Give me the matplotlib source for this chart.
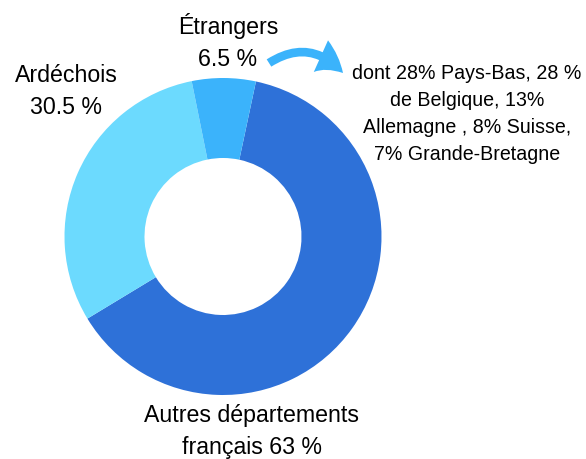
import matplotlib
matplotlib.use("Agg")
import matplotlib.pyplot as plt
from matplotlib.patches import FancyArrowPatch

# --- DATA ---
labels = ["Autres départements\nfrançais 63 %", "Ardéchois\n30.5 %", "Étrangers\n6.5 %"]
shares = [63, 30.5, 6.5]
colors = ["#2E71D8", "#6CDAFE", "#3BB3FB"]
note = "dont 28% Pays-Bas, 28 %\nde Belgique, 13%\nAllemagne , 8% Suisse,\n7% Grande-Bretagne"

W, H = 586, 459
plt.rcParams['font.family'] = ['Liberation Sans', 'DejaVu Sans']


def py(y):
    # pixel row (from top) -> data y
    return H - y


fig = plt.figure(figsize=(W / 100, H / 100), dpi=100)
ax = fig.add_axes([0, 0, 1, 1])

ax.pie(shares, colors=colors, startangle=78, counterclock=False,
       radius=158.5, center=(223, py(236.5)),
       wedgeprops=dict(width=80, linewidth=0))

ax.set_xlim(0, W)
ax.set_ylim(0, H)
ax.set_aspect('equal')
ax.axis('off')

# slice labels
big = dict(ha='center', va='center', fontsize=16.7, linespacing=1.5)
ax.text(228, py(42), labels[2], **big)
ax.text(66, py(91), labels[1], **big)
ax.text(252, py(431.5), labels[0], **big)

# detail for foreign visitors
ax.text(467, py(114), note, ha='center', va='center', fontsize=14.1, linespacing=1.52)

arrow = FancyArrowPatch((269, py(63)), (343, py(73)),
                        connectionstyle='arc3,rad=-0.42',
                        arrowstyle='simple,head_width=2.5,head_length=2.0,tail_width=0.62',
                        mutation_scale=10, shrinkA=0, shrinkB=0,
                        color=colors[2], linewidth=0)
ax.add_patch(arrow)

fig.savefig('out.png', dpi=100)
